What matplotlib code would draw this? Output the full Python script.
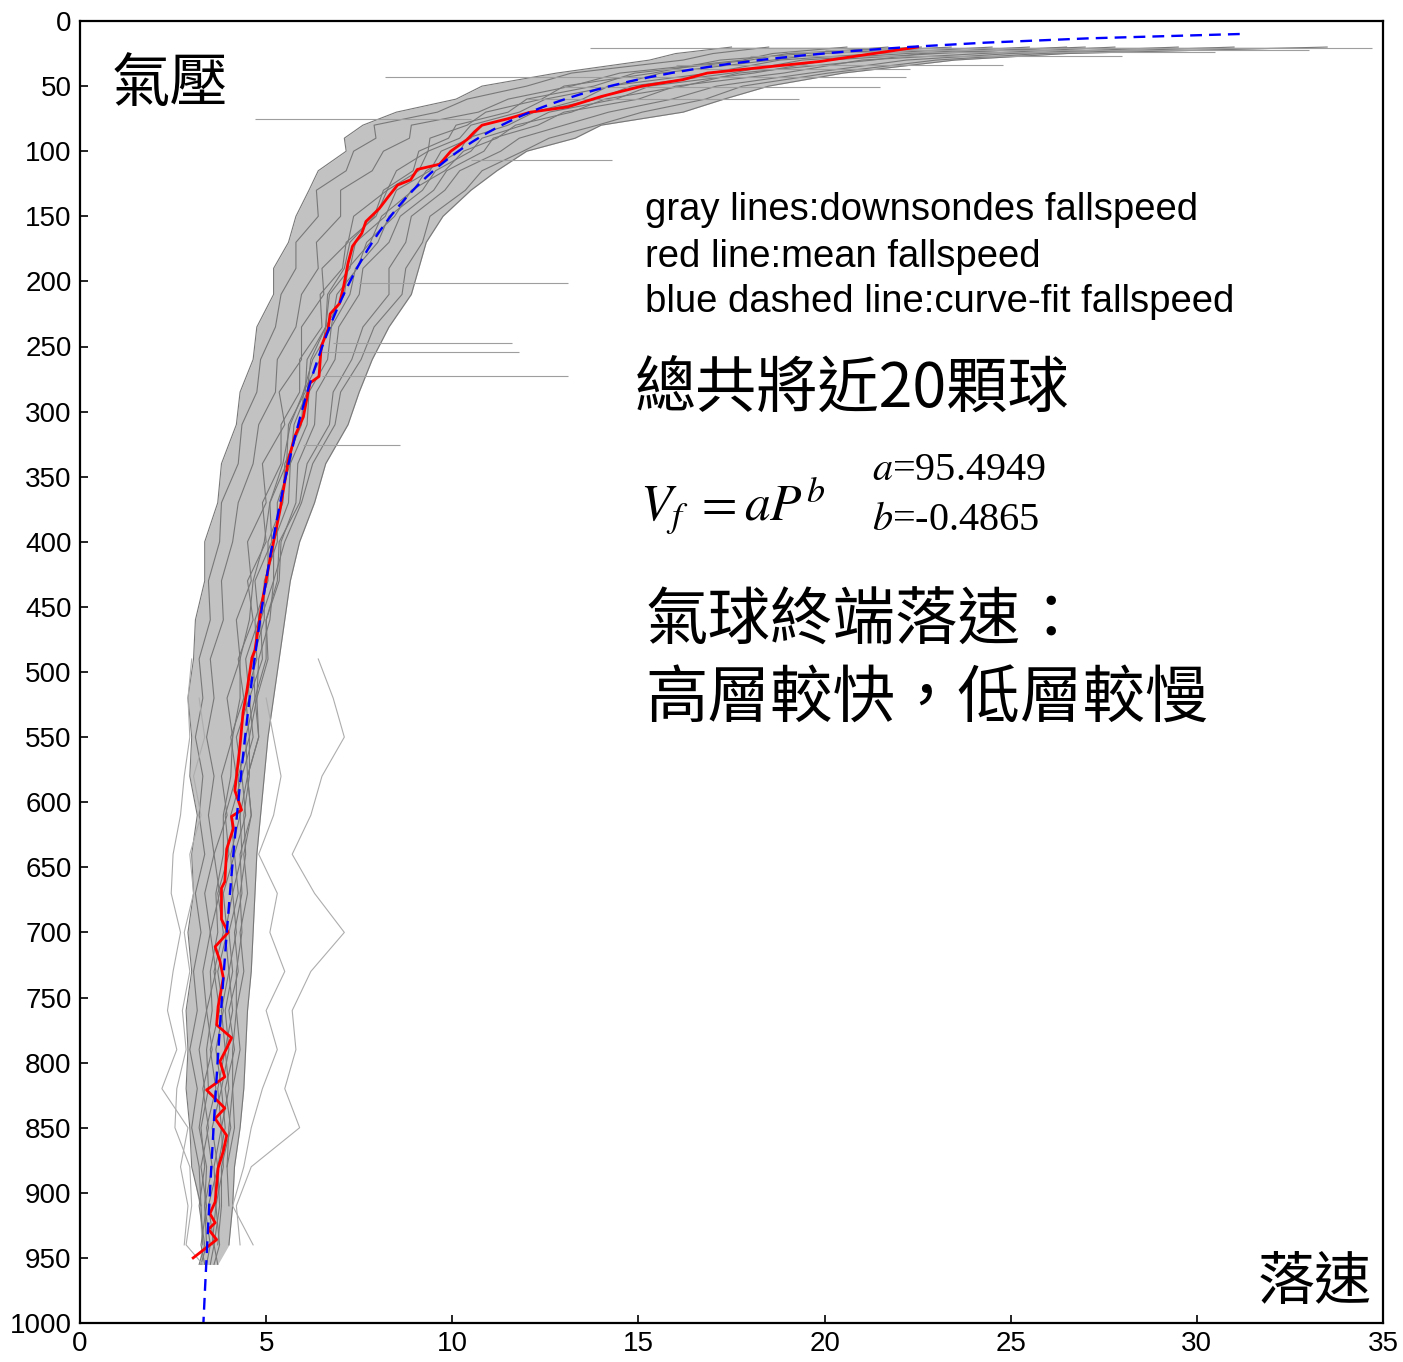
import numpy as np
import matplotlib
matplotlib.use('Agg')
import matplotlib.pyplot as plt

plt.rcParams['font.family'] = ['Liberation Sans', 'DejaVu Sans']
plt.rcParams['mathtext.fontset'] = 'stix'

nan = np.nan

# pressure levels (hPa) of the gray downsonde profiles
p_levels = [20, 25, 30, 40, 50, 60, 70, 80, 90, 100, 115, 130, 150, 170, 190, 210,
            235, 260, 285, 310, 340, 370, 400, 430, 460, 490, 520, 550, 580, 610,
            640, 670, 700, 730, 760, 790, 820, 850, 880, 910, 940, 955]

# fall speed (m/s) of each downsonde at p_levels
sonde_core = [
    [17.5, 16.0, 15.3, 12.8, 10.8, 10.1, 8.5, 7.6, 7.1, 7.15, 6.4, 6.15, 5.8, 5.6, 5.2, 5.2,
     4.75, 4.65, 4.3, 4.2, 3.8, 3.7, 3.35, 3.35, 3.1, 3.05, 2.9, 3.0, 2.95, 3.15,
     3.0, 3.05, 2.9, 3.0, 2.85, 2.9, 2.85, 2.95, 3.0, 3.25, nan, nan],
    [18.5, 17.0, 16.2, 13.2, 12.0, 10.4, 9.6, 7.9, 7.95, 7.35, 7.15, 6.35, 6.4, 5.8, 5.8, 5.4,
     5.25, 4.85, 4.75, 4.35, 4.25, 3.8, 3.75, 3.45, 3.5, 3.2, 3.3, 3.1, 3.3, 3.2,
     3.35, 3.1, 3.25, 3.05, 3.15, 2.95, 3.15, 3.0, 3.2, 3.25, 3.3, nan],
    [20.6, 18.6, 17.8, 14.5, 13.2, 11.5, 10.7, 8.9, 8.85, 8.15, 7.85, 7.0, 7.0, 6.35, 6.4, 5.95,
     5.8, 5.3, 5.25, 4.8, 4.65, 4.25, 4.1, 3.8, 3.85, 3.5, 3.6, 3.4, 3.6, 3.45,
     3.6, 3.35, 3.5, 3.3, 3.4, 3.2, 3.35, 3.2, 3.4, 3.35, 3.4, 3.25],
    [21.7, 19.5, 17.2, 15.4, 13.0, 12.4, 10.9, 10.4, 9.4, 9.35, 8.5, 8.25, 7.35, 7.2, 6.5, 6.55,
     5.95, 5.95, 5.35, 5.5, 4.9, 5.0, 4.5, 4.6, 4.2, 4.3, 3.95, 4.1, 3.8, 3.95,
     3.6, 3.75, 3.5, 3.65, 3.4, 3.55, 3.3, 3.45, 3.25, 3.4, 3.25, 3.35],
    [23.4, 20.0, 18.6, 15.6, 14.3, 12.5, 11.8, 10.5, 10.2, 9.35, 9.1, 8.25, 7.95, 7.15, 7.05, 6.45,
     6.5, 5.9, 5.9, 5.4, 5.4, 4.9, 5.0, 4.5, 4.65, 4.25, 4.4, 4.05, 4.2, 3.9,
     4.0, 3.7, 3.85, 3.6, 3.75, 3.5, 3.65, 3.4, 3.55, 3.35, 3.5, 3.4],
    [24.5, 21.4, 18.8, 16.9, 14.2, 13.5, 12.2, 10.8, 10.5, 9.7, 9.4, 8.5, 8.2, 7.4, 7.25, 6.7,
     6.6, 6.1, 6.05, 5.6, 5.55, 5.1, 5.15, 4.7, 4.8, 4.45, 4.55, 4.2, 4.35, 4.05,
     4.15, 3.85, 3.95, 3.7, 3.85, 3.65, 3.8, 3.55, 3.7, 3.45, 3.6, 3.5],
    [25.5, 22.2, 19.4, 17.5, 14.8, 13.9, 12.2, 11.5, 10.4, 10.2, 9.3, 8.95, 8.1, 7.8, 7.2, 7.1,
     6.6, 6.45, 6.0, 5.95, 5.5, 5.45, 5.05, 5.05, 4.7, 4.75, 4.45, 4.55, 4.25, 4.3,
     4.05, 4.1, 3.9, 4.0, 3.8, 3.9, 3.7, 3.8, 3.6, 3.65, 3.55, nan],
    [26.5, 23.0, 20.1, 18.1, 15.3, 14.4, 12.6, 11.9, 10.8, 10.5, 9.55, 9.2, 8.3, 8.0, 7.4, 7.25,
     6.75, 6.65, 6.15, 6.1, 5.65, 5.6, 5.2, 5.2, 4.85, 4.9, 4.55, 4.65, 4.35, 4.45,
     4.15, 4.25, 4.0, 4.1, 3.9, 4.0, 3.8, 3.9, 3.7, 3.75, 3.6, 3.7],
    [27.8, 24.2, 21.0, 18.9, 16.0, 15.0, 13.0, 12.3, 11.1, 10.85, 9.85, 9.5, 8.6, 8.3, 7.6, 7.5,
     6.95, 6.85, 6.35, 6.3, 5.85, 5.8, 5.4, 5.35, 5.0, 5.05, 4.75, 4.8, 4.5, 4.6,
     4.3, 4.35, 4.15, 4.25, 4.0, 4.15, 3.9, 4.05, 3.8, 3.8, 3.7, nan],
    [29.5, 25.0, 22.2, 19.6, 17.1, 15.9, 14.2, 13.0, 11.8, 11.3, 10.2, 9.8, 8.9, 8.75, 8.3, 8.3,
     7.6, 7.3, 6.8, 6.7, 6.1, 5.9, 5.35, 5.3, 5.0, 5.0, 4.7, 4.8, 4.5, 4.6,
     4.4, 4.5, 4.3, 4.4, 4.2, 4.3, 4.1, 4.15, 3.95, 4.0, nan, nan],
    [31.0, 25.8, 23.0, 20.1, 17.8, 16.8, 15.1, 13.9, 12.6, 11.9, 10.8, 10.35, 9.4, 9.2, 8.75, 8.65,
     7.9, 7.55, 7.0, 6.85, 6.25, 5.95, 5.5, 5.2, 5.1, 4.8, 4.75, 4.55, 4.55, 4.4,
     4.45, 4.3, 4.35, 4.2, 4.2, 4.1, 4.1, 4.0, 3.95, nan, nan, nan],
    [33.5, 26.5, 23.5, 20.5, 18.5, 17.3, 16.2, 14.0, 13.3, 12.0, 11.2, 10.5, 9.75, 9.3, 9.1, 8.9,
     8.3, 7.85, 7.5, 7.2, 6.6, 6.3, 5.9, 5.65, 5.5, 5.35, 5.2, 5.05, 4.95, 4.85,
     4.75, 4.7, 4.65, 4.6, 4.5, 4.45, 4.4, 4.3, 4.15, 4.1, 4.0, nan],
    [22.6, 19.0, 18.0, 14.9, 13.8, 12.0, 11.5, 10.1, 9.9, 9.1, 8.95, 8.15, 7.9, 7.25, 7.1, 6.65,
     6.6, 6.2, 6.1, 5.75, 5.65, 5.3, 5.3, 4.95, 4.95, 4.65, 4.7, 4.45, 4.5, 4.3,
     4.35, 4.1, 4.2, 4.0, 4.1, 3.9, 4.0, 3.8, 3.85, 3.65, 3.75, 3.6],
    [27.0, 22.6, 21.3, 17.7, 16.2, 14.1, 13.2, 11.7, 11.2, 10.3, 9.8, 8.9, 8.45, 7.7, 7.45, 6.9,
     6.75, 6.25, 6.0, 5.65, 5.45, 5.1, 4.95, 4.65, 4.55, 4.3, 4.3, 4.1, 4.05, 3.85,
     3.85, 3.65, 3.7, 3.5, 3.55, 3.4, 3.45, 3.25, 3.35, 3.2, 3.35, 3.2],
]

# lighter outlier sondes (lower troposphere only)
sonde_edge = [
    [nan] * 25 + [3.0, 2.9, 2.95, 2.8, 2.7, 2.5, 2.45, 2.7, 2.5, 2.35, 2.6, 2.2, 2.9, 2.7, 2.9, 2.8, nan],
    [nan] * 26 + [3.2, 3.35, 3.05, 3.25, 2.95, 3.05, 2.8, 2.95, 2.75, 2.85, 2.6, 2.55, 2.95, 3.0, 2.85, 3.3],
    [nan] * 25 + [6.4, 6.8, 7.1, 6.5, 6.2, 5.7, 6.3, 7.1, 6.2, 5.7, 5.8, 5.5, 5.9, 4.6, 4.2, 4.3, nan],
    [nan] * 26 + [5.0, 5.2, 5.4, 5.2, 4.8, 5.3, 5.1, 5.5, 5.0, 5.3, 4.9, 4.6, 4.4, 4.1, 4.65, nan],
]

# short horizontal spikes in single sonde records
streak_p = [21, 22, 24, 27, 34, 37, 43, 51, 60, 75, 107, 201, 247, 254, 273, 326]
streak_v0 = [13.7, 20.0, 19.0, 18.0, 16.0, 15.5, 8.2, 13.0, 12.0, 4.7, 10.5, 7.5, 6.8, 6.5, 6.5, 6.0]
streak_v1 = [34.7, 33.0, 30.5, 28.0, 24.8, 22.3, 22.2, 21.5, 19.3, 10.5, 14.3, 13.1, 11.6, 11.8, 13.1, 8.6]

# mean fall speed (red)
mean_p = [20, 31, 40, 45, 50, 58, 66, 70, 75, 80, 85, 91, 100, 110, 114, 122, 126, 135,
          144, 154, 163, 173, 186, 204, 217, 225, 237, 250, 273, 278, 286, 304, 319, 337,
          376, 414, 445, 483, 489, 515, 531, 556, 591, 606, 611, 620, 636, 661, 666, 690,
          700, 711, 722, 735, 757, 771, 781, 789, 799, 811, 821, 835, 843, 856, 868, 881,
          907, 916, 923, 928, 936, 942, 950]
mean_v = [22.5, 19.9, 16.85, 16.2, 15.1, 14.0, 13.1, 12.1, 11.5, 10.8, 10.6, 10.4, 9.96, 9.66,
          9.06, 8.88, 8.53, 8.28, 8.04, 7.68, 7.57, 7.32, 7.2, 7.08, 6.97, 6.72, 6.66, 6.48,
          6.42, 6.18, 6.12, 6.0, 5.77, 5.6, 5.37, 5.1, 4.9, 4.7, 4.62, 4.48, 4.38, 4.3, 4.16,
          4.34, 4.07, 4.12, 3.94, 3.89, 3.8, 3.8, 3.98, 3.63, 3.76, 3.85, 3.71, 3.67, 4.07,
          3.94, 3.76, 3.89, 3.4, 3.89, 3.63, 3.94, 3.85, 3.71, 3.63, 3.49, 3.63, 3.45, 3.67,
          3.4, 3.04]

# curve fit Vf = a * P^b (blue dashed)
fit_a = 95.4949
fit_b = -0.4865
fit_p = np.linspace(10, 1000, 300)

fig = plt.figure(figsize=(14.03, 13.62), dpi=100)
ax = fig.add_axes([80 / 1403, 1 - 1323 / 1362, 1303 / 1403, 1302 / 1362])

core = np.array(sonde_core)
ax.fill_betweenx(p_levels, np.nanmin(core, axis=0), np.nanmax(core, axis=0),
                 color='0.76', lw=0)
for prof in sonde_core:
    ax.plot(prof, p_levels, color='0.47', lw=0.8)
for prof in sonde_edge:
    ax.plot(prof, p_levels, color='0.68', lw=0.8)
ax.hlines(streak_p, streak_v0, streak_v1, color='0.62', lw=0.8)

ax.plot(mean_v, mean_p, color='red', lw=2.0)
ax.plot(fit_a * fit_p ** fit_b, fit_p, color='blue', lw=1.7, ls=(0, (5, 3)))

ax.set_xlim(0, 35)
ax.set_ylim(1000, 0)
ax.set_xticks(np.arange(0, 36, 5))
ax.set_yticks(np.arange(0, 1001, 50))
ax.tick_params(direction='in', length=6, width=1.2, labelsize=20, pad=6)
for s in ax.spines.values():
    s.set_linewidth(1.6)

cjk = ['Noto Sans CJK TC', 'DejaVu Sans']
fig.text(112 / 1403, 1 - 85 / 1362, '氣壓', family=cjk, fontsize=42, ha='left', va='center')
fig.text(1372 / 1403, 1 - 1283 / 1362, '落速', family=cjk, fontsize=41, ha='right', va='center')

legend_lines = ['gray lines:downsondes fallspeed', 'red line:mean fallspeed',
                'blue dashed line:curve-fit fallspeed']
for txt, yy in zip(legend_lines, [210, 257, 302]):
    fig.text(645 / 1403, 1 - yy / 1362, txt, fontsize=27.5, ha='left', va='center')

fig.text(635 / 1403, 1 - 390 / 1362, '總共將近20顆球', family=cjk, fontsize=44, ha='left', va='center')
fig.text(640 / 1403, 1 - 520 / 1362, r'$V_f\;=aP^b$', fontsize=37, ha='left', va='baseline')
fig.text(872 / 1403, 1 - 480 / 1362, r'$a$=95.4949', family='Liberation Serif', fontsize=29, ha='left', va='baseline')
fig.text(872 / 1403, 1 - 530 / 1362, r'$b$=-0.4865', family='Liberation Serif', fontsize=29, ha='left', va='baseline')
fig.text(645 / 1403, 1 - 622 / 1362, '氣球終端落速：', family=cjk, fontsize=45, ha='left', va='center')
fig.text(645 / 1403, 1 - 700 / 1362, '高層較快，低層較慢', family=cjk, fontsize=45, ha='left', va='center')

fig.savefig('out.png', dpi=100)
